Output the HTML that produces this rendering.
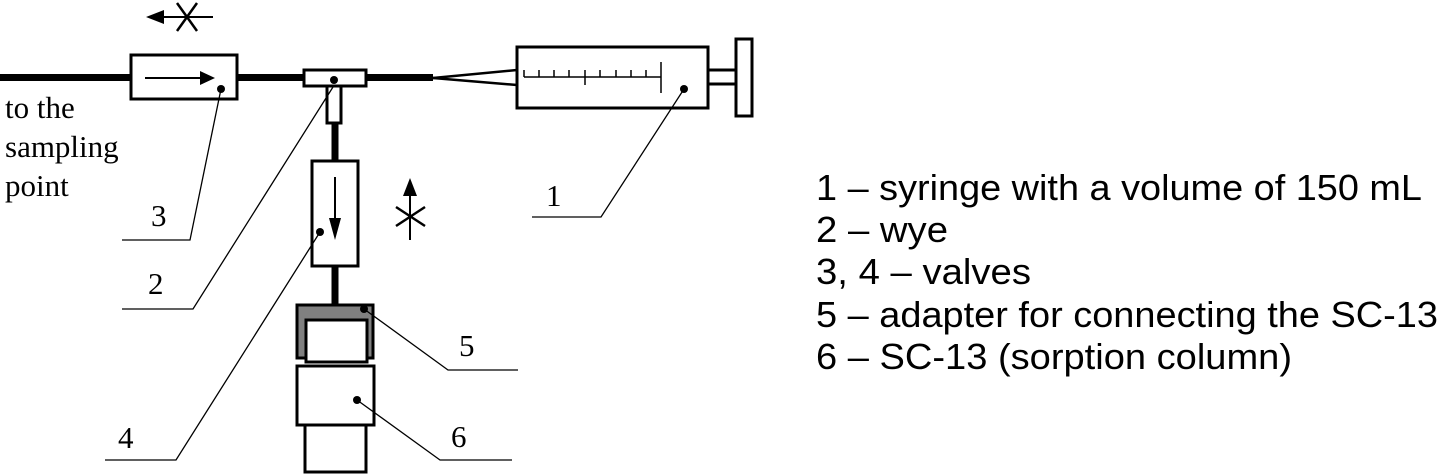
<!DOCTYPE html>
<html><head><meta charset="utf-8"><style>
html,body{margin:0;padding:0;background:#fff;}
svg{display:block;}
</style></head><body>
<svg width="1440" height="475" viewBox="0 0 1440 475" xmlns="http://www.w3.org/2000/svg">
<g stroke="#000" fill="none">
 <line x1="0" y1="77.5" x2="433" y2="77.5" stroke-width="7"/>
 <rect x="131" y="55" width="106" height="44" fill="#fff" stroke-width="3"/>
 <line x1="145" y1="78" x2="200" y2="78" stroke-width="2"/>
 <rect x="304" y="70" width="62" height="16" fill="#fff" stroke-width="3"/>
 <rect x="327" y="86" width="14" height="37" fill="#fff" stroke-width="3"/>
 <line x1="433" y1="78" x2="517" y2="70" stroke-width="2.5"/>
 <line x1="433" y1="78" x2="517" y2="85" stroke-width="2.5"/>
 <rect x="517" y="47" width="191" height="61" fill="#fff" stroke-width="3"/>
 <line x1="524" y1="77" x2="661" y2="77" stroke-width="1.5"/>
 <line x1="524" y1="70" x2="524" y2="77" stroke-width="1.5"/>
 <line x1="539" y1="70" x2="539" y2="77" stroke-width="1.5"/>
 <line x1="554" y1="70" x2="554" y2="77" stroke-width="1.5"/>
 <line x1="569" y1="70" x2="569" y2="77" stroke-width="1.5"/>
 <line x1="585" y1="70" x2="585" y2="85" stroke-width="1.5"/>
 <line x1="600" y1="70" x2="600" y2="77" stroke-width="1.5"/>
 <line x1="616" y1="70" x2="616" y2="77" stroke-width="1.5"/>
 <line x1="631" y1="70" x2="631" y2="77" stroke-width="1.5"/>
 <line x1="646" y1="70" x2="646" y2="77" stroke-width="1.5"/>
 <line x1="661" y1="62" x2="661" y2="93" stroke-width="1.5"/>
 <rect x="708" y="70" width="28" height="14" fill="#fff" stroke-width="3"/>
 <rect x="736" y="39" width="16" height="77" fill="#fff" stroke-width="3"/>
 <line x1="160" y1="17" x2="213" y2="17" stroke-width="2"/>
 <line x1="177" y1="3" x2="197" y2="31" stroke-width="2.5"/>
 <line x1="197" y1="3" x2="177" y2="31" stroke-width="2.5"/>
 <line x1="335" y1="123" x2="335" y2="161" stroke-width="7"/>
 <rect x="312" y="161" width="46" height="105" fill="#fff" stroke-width="3"/>
 <line x1="335" y1="177" x2="335" y2="220" stroke-width="2"/>
 <line x1="335" y1="266" x2="335" y2="304" stroke-width="7"/>
 <line x1="410" y1="195" x2="410" y2="240" stroke-width="2"/>
 <line x1="396" y1="207" x2="425" y2="226" stroke-width="2.5"/>
 <line x1="425" y1="207" x2="396" y2="226" stroke-width="2.5"/>
 <path d="M297 358 V305 H373 V358 H367 V320 H306 V358 Z" fill="#808080" stroke-width="3"/>
 <rect x="306" y="320" width="61" height="42" fill="#fff" stroke-width="3"/>
 <rect x="297" y="366" width="77" height="59" fill="#fff" stroke-width="3"/>
 <rect x="305" y="425" width="61" height="47" fill="#fff" stroke-width="3"/>
 <g stroke-width="1.3">
  <polyline points="221,89 190,240 122,240"/>
  <polyline points="333,87 193,309 122,309"/>
  <polyline points="320,232 176,460 105,460"/>
  <polyline points="364,309 448,370 518,370"/>
  <polyline points="357,400 440,460 512,460"/>
  <polyline points="684,89 601,217 532,217"/>
 </g>
</g>
<g fill="#000">
 <polygon points="200,71 215,78 200,85"/>
 <polygon points="146,17 164,10 164,24"/>
 <polygon points="329,218 341,218 335,240"/>
 <polygon points="410,178 403,196 417,196"/>
 <circle cx="221" cy="89" r="4"/>
 <circle cx="334" cy="80" r="4"/>
 <circle cx="320" cy="232" r="4"/>
 <circle cx="364" cy="309" r="4"/>
 <circle cx="357" cy="400" r="4"/>
 <circle cx="684" cy="89" r="4"/>
</g>
<g font-family="Liberation Serif, serif" font-size="31" fill="#000">
 <text x="5" y="118">to the</text>
 <text x="5" y="157">sampling</text>
 <text x="5" y="196">point</text>
 <text x="151" y="226">3</text>
 <text x="148" y="294">2</text>
 <text x="118" y="448">4</text>
 <text x="459" y="356">5</text>
 <text x="451" y="447">6</text>
 <text x="546" y="206">1</text>
</g>
<g font-family="Liberation Sans, Arial, sans-serif" font-size="36" fill="#000">
 <text x="816" y="200" textLength="606" lengthAdjust="spacingAndGlyphs">1 – syringe with a volume of 150 mL</text>
 <text x="816" y="242" textLength="132" lengthAdjust="spacingAndGlyphs">2 – wye</text>
 <text x="816" y="284" textLength="215" lengthAdjust="spacingAndGlyphs">3, 4 – valves</text>
 <text x="816" y="327" textLength="622" lengthAdjust="spacingAndGlyphs">5 – adapter for connecting the SC-13</text>
 <text x="816" y="369" textLength="476" lengthAdjust="spacingAndGlyphs">6 – SC-13 (sorption column)</text>
</g>
</svg>
</body></html>
